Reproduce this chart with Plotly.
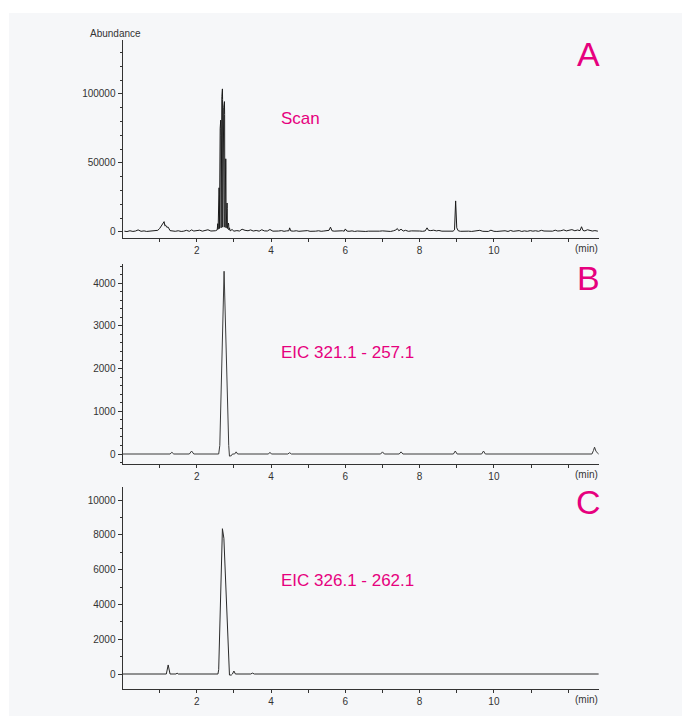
import plotly.graph_objects as go

# page has an 8px body margin, so the figure is drawn 8px smaller and offset
OFF = 8
W, H = 690 - OFF, 718 - OFF

# ---------------- data ----------------
scan_time = [
    0.05, 0.12, 0.20, 0.28, 0.35, 0.42, 0.50, 0.58, 0.65, 0.72,
    0.80, 0.88, 0.95, 1.00, 1.04, 1.07, 1.10, 1.12, 1.14, 1.16,
    1.19, 1.23, 1.28, 1.35, 1.42, 1.50, 1.58, 1.65, 1.72, 1.80,
    1.86, 1.92, 2.00, 2.08, 2.15, 2.22, 2.30, 2.38, 2.45, 2.50,
    2.55, 2.565, 2.575, 2.585, 2.59, 2.60, 2.605, 2.61,
    2.62, 2.63, 2.645, 2.65, 2.655,
    2.665, 2.675, 2.69, 2.695, 2.70,
    2.71, 2.725, 2.745, 2.75, 2.755,
    2.765, 2.77, 2.78, 2.785, 2.79,
    2.80, 2.805, 2.815, 2.82, 2.825,
    2.835, 2.84, 2.853, 2.86, 2.865, 2.88, 2.90,
    2.95, 3.00, 3.08, 3.15, 3.22,
    3.30, 3.38, 3.45, 3.52, 3.60, 3.68, 3.75, 3.82, 3.90, 3.97,
    4.05, 4.12, 4.20, 4.28, 4.35, 4.42, 4.48, 4.50, 4.53, 4.60,
    4.68, 4.75, 4.82, 4.90, 4.98, 5.05, 5.12, 5.20, 5.28, 5.35,
    5.42, 5.50, 5.56, 5.60, 5.64, 5.70, 5.78, 5.85, 5.92, 5.97,
    6.00, 6.04, 6.10, 6.18, 6.25, 6.32, 6.40, 6.48, 6.55, 6.62,
    6.70, 6.78, 6.85, 6.92, 7.00, 7.08, 7.15, 7.22, 7.30, 7.36,
    7.40, 7.44, 7.50, 7.56, 7.62, 7.70, 7.78, 7.85, 7.92, 8.00,
    8.08, 8.15, 8.20, 8.24, 8.30, 8.38, 8.45, 8.52, 8.60, 8.68,
    8.75, 8.82, 8.90, 8.94, 8.97, 9.00, 9.04, 9.10, 9.18, 9.25,
    9.32, 9.40, 9.48, 9.55, 9.62, 9.70, 9.78, 9.85, 9.92, 10.00,
    10.08, 10.15, 10.22, 10.30, 10.38, 10.45, 10.52, 10.60, 10.68, 10.75,
    10.82, 10.90, 10.98, 11.05, 11.12, 11.20, 11.28, 11.35, 11.42, 11.50,
    11.58, 11.65, 11.72, 11.80, 11.88, 11.95, 12.02, 12.10, 12.18, 12.25,
    12.32, 12.36, 12.40, 12.45, 12.52, 12.58, 12.65, 12.72, 12.80,
]
scan_abundance = [
    600, 300, 900, 400, 700, 1500, 500, 800, 400, 600,
    900, 700, 1200, 2500, 4000, 5500, 6000, 7500, 4500, 5000,
    3500, 3500, 1000, 700, 500, 900, 400, 600, 1200, 500,
    1500, 700, 800, 1300, 600, 900, 1600, 700, 800, 900,
    1500, 6000, 2000, 18000, 30000, 32000, 27000, 2500,
    60000, 75000, 81000, 70000, 3000,
    85000, 98000, 103600, 96000, 3500,
    80000, 90000, 94400, 85000, 3500,
    44000, 50000, 53000, 45000, 3000,
    16000, 19000, 21000, 17000, 2500,
    5000, 6000, 6500, 5000, 1500, 3000, 800,
    1800, 600, 1000, 700, 2000,
    1200, 900, 1500, 700, 1100, 600, 1600, 800, 700, 1800,
    600, 900, 700, 1000, 500, 800, 900, 3000, 800, 600,
    900, 500, 700, 600, 1000, 500, 800, 600, 900, 500,
    700, 900, 1200, 3500, 900, 600, 800, 500, 900, 600,
    2200, 700, 500, 800, 400, 700, 500, 800, 400, 600,
    500, 700, 400, 600, 800, 500, 700, 400, 900, 1500,
    2500, 900, 2000, 700, 1200, 500, 800, 600, 400, 700,
    500, 800, 3000, 1200, 1000, 1300, 800, 1100, 600, 700,
    500, 800, 600, 1500, 22500, 3000, 900, 500, 700, 400,
    600, 400, 700, 500, 1200, 500, 600, 400, 1300, 500,
    400, 700, 500, 900, 400, 1100, 500, 700, 1000, 400,
    800, 500, 1000, 600, 900, 500, 1200, 700, 600, 1000,
    600, 1300, 700, 900, 1500, 800, 1100, 1700, 900, 1400,
    1000, 3800, 1100, 800, 1600, 1200, 700, 1000, 600,
]

eic1_time = [0.0, 1.28, 1.33, 1.38, 1.80, 1.86, 1.92, 2.59, 2.62, 2.735,
             2.86, 2.88, 2.93, 2.96, 3.02, 3.06, 3.10, 3.93, 3.97, 4.01,
             4.45, 4.50, 4.55, 6.95, 7.00, 7.05, 7.45, 7.50, 7.55, 8.91,
             8.96, 9.01, 9.67, 9.72, 9.77, 12.64, 12.68, 12.71, 12.75, 12.82]
eic1_abundance = [0, 0, 40, 0, 0, 70, 0, 0, 200, 4280,
                  200, -50, -40, 0, 0, 50, 0, 0, 40, 0,
                  0, 30, 0, 0, 50, 0, 0, 50, 0, 0,
                  70, 0, 0, 70, 0, 0, 80, 160, 60, 0]

eic2_time = [0.0, 1.18, 1.23, 1.28, 1.44, 1.47, 1.50, 2.10, 2.13, 2.16,
             2.57, 2.59, 2.69, 2.73, 2.86, 2.88, 2.93, 2.96, 3.00, 3.04,
             3.45, 3.50, 3.55, 3.65, 3.70, 3.75, 11.62, 11.66, 11.70, 12.82]
eic2_abundance = [0, 0, 520, 0, 0, 50, 0, 0, 30, 0,
                  0, 250, 8350, 7800, 250, -60, -60, 0, 170, 0,
                  0, 50, 0, 0, 40, 0, 0, 30, 0, 0]

x_tick_values = [1, 2, 3, 4, 5, 6, 7, 8, 9, 10, 11, 12]
x_tick_labels = ["", "2", "", "4", "", "6", "", "8", "", "10", "", ""]

panel_letters = ["A", "B", "C"]
panel_titles = ["Scan", "EIC 321.1 - 257.1", "EIC 326.1 - 262.1"]

# ---------------- layout helpers ----------------
FONT = "Liberation Sans, Arial, sans-serif"
MAGENTA = "#e6007e"
AXC = "#333333"


def px_x(p):
    return (p - OFF) / W


def px_y(p):
    return 1 - (p - OFF) / H


x_dom = [px_x(122.5), px_x(599)]
panels = [
    # (top px, bottom px, y range, major dtick, minor dtick)
    (40, 238, [-4350, 139000], 50000, 10000),
    (264, 464, [-234, 4450], 1000, 200),
    (487, 689, [-862, 10747], 2000, 1000),
]

fig = go.Figure()
series = [
    (scan_time, scan_abundance, "#1a1a1a"),
    (eic1_time, eic1_abundance, "#3a3a3a"),
    (eic2_time, eic2_abundance, "#2a2a2a"),
]
for i, (t, v, c) in enumerate(series):
    sfx = "" if i == 0 else str(i + 1)
    fig.add_trace(go.Scatter(x=t, y=v, mode="lines",
                             line=dict(color=c, width=1),
                             xaxis="x" + sfx, yaxis="y" + sfx,
                             showlegend=False, hoverinfo="skip"))

layout = {}
for i, (top, bot, yr, dt, mdt) in enumerate(panels):
    sfx = "" if i == 0 else str(i + 1)
    layout["xaxis" + sfx] = dict(
        domain=x_dom, range=[0, 12.83], anchor="y" + sfx,
        tickmode="array", tickvals=x_tick_values, ticktext=x_tick_labels,
        ticks="outside", ticklen=3, tickcolor=AXC, tickwidth=1,
        showline=True, linecolor=AXC, linewidth=1,
        showgrid=False, zeroline=False,
        tickfont=dict(family=FONT, size=10, color=AXC),
        fixedrange=True,
    )
    layout["yaxis" + sfx] = dict(
        domain=[px_y(bot), px_y(top)], range=yr, anchor="x" + sfx,
        tick0=0, dtick=dt, tickformat="d",
        ticks="outside", ticklen=4, tickcolor=AXC, tickwidth=1,
        minor=dict(dtick=mdt, tick0=0, ticks="outside", ticklen=2,
                   tickcolor=AXC, tickwidth=1, showgrid=False),
        showline=True, linecolor=AXC, linewidth=1,
        showgrid=False, zeroline=False,
        tickfont=dict(family=FONT, size=10, color=AXC),
        fixedrange=True,
    )

annotations = [
    dict(text="Abundance", x=px_x(88), y=px_y(34), xref="paper", yref="paper",
         xanchor="left", yanchor="middle", showarrow=False,
         font=dict(family=FONT, size=10, color=AXC)),
]
letter_y = [54, 278, 502]
title_y = [118, 352, 580]
axis_bottom = [238, 464, 689]
for i in range(3):
    annotations.append(dict(
        text=panel_letters[i], x=px_x(588), y=px_y(letter_y[i]),
        xref="paper", yref="paper", xanchor="center", yanchor="middle",
        showarrow=False, font=dict(family=FONT, size=34, color=MAGENTA)))
    annotations.append(dict(
        text=panel_titles[i], x=px_x(279), y=px_y(title_y[i]),
        xref="paper", yref="paper", xanchor="left", yanchor="middle",
        showarrow=False, font=dict(family=FONT, size=17, color=MAGENTA)))
    annotations.append(dict(
        text="(min)", x=px_x(600), y=px_y(axis_bottom[i] + 10),
        xref="paper", yref="paper", xanchor="right", yanchor="middle",
        showarrow=False, font=dict(family=FONT, size=10, color=AXC)))

shapes = [dict(type="rect", xref="paper", yref="paper",
               x0=px_x(9), x1=px_x(688), y0=px_y(716), y1=px_y(13),
               fillcolor="#f6f7f9", line=dict(width=0), layer="below")]

fig.update_layout(
    width=W, height=H, margin=dict(l=0, r=0, t=0, b=0),
    paper_bgcolor="white", plot_bgcolor="rgba(0,0,0,0)",
    annotations=annotations, shapes=shapes, **layout,
)

fig.write_html("out.html", config={"displayModeBar": False})
